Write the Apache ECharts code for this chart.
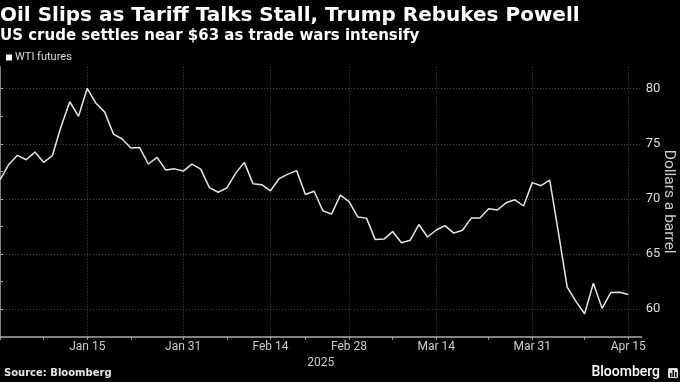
<!DOCTYPE html>
<html><head><meta charset="utf-8">
<script src="https://cdn.jsdelivr.net/npm/echarts@6/dist/echarts.min.js"></script>
<style>html,body{margin:0;padding:0;background:#000;}#c{width:680px;height:382px;}</style>
</head><body><div id="c"></div>
<script>
// Trading days (category positions) and WTI settles
const dates = ['Dec 31',
 'Jan 2','Jan 3','Jan 6','Jan 7','Jan 8','Jan 9','Jan 10','Jan 13','Jan 14','Jan 15','Jan 16','Jan 17',
 'Jan 21','Jan 22','Jan 23','Jan 24','Jan 27','Jan 28','Jan 29','Jan 30','Jan 31',
 'Feb 3','Feb 4','Feb 5','Feb 6','Feb 7','Feb 10','Feb 11','Feb 12','Feb 13','Feb 14',
 'Feb 18','Feb 19','Feb 20','Feb 21','Feb 24','Feb 25','Feb 26','Feb 27','Feb 28',
 'Mar 3','Mar 4','Mar 5','Mar 6','Mar 7','Mar 10','Mar 11','Mar 12','Mar 13','Mar 14',
 'Mar 17','Mar 18','Mar 19','Mar 20','Mar 21','Mar 24','Mar 25','Mar 26','Mar 27','Mar 28','Mar 31',
 'Apr 1','Apr 2','Apr 3','Apr 4','Apr 7','Apr 8','Apr 9','Apr 10','Apr 11','Apr 14','Apr 15'];
const wti = [71.72,
 73.13,73.96,73.56,74.25,73.32,73.92,76.57,78.82,77.50,80.04,78.68,77.88,
 75.89,75.44,74.62,74.66,73.17,73.77,72.62,72.73,72.53,
 73.16,72.70,71.03,70.61,71.00,72.32,73.32,71.37,71.29,70.74,
 71.85,72.25,72.57,70.40,70.70,68.93,68.62,70.35,69.76,
 68.37,68.26,66.31,66.36,67.04,66.03,66.25,67.68,66.55,67.18,
 67.58,66.90,67.16,68.26,68.28,69.11,69.00,69.65,69.92,69.36,71.48,
 71.20,71.71,66.95,61.99,60.70,59.58,62.35,60.07,61.50,61.53,61.33];
const labelDates = ['Jan 15','Jan 31','Feb 14','Feb 28','Mar 14','Mar 31','Apr 15'];
const minorTickDates = ['Dec 31','Jan 8','Jan 23','Feb 7','Feb 21','Mar 7','Mar 24','Apr 8'];
const yLabels = [60,65,70,75,80];
const yMinorTicks = [62.5,67.5,72.5,77.5];

const labelIdx = labelDates.map(d => dates.indexOf(d));
const tickIdx = minorTickDates.map(d => dates.indexOf(d)).concat(labelIdx).sort((a,b)=>a-b);
const yTicks = yLabels.concat(yMinorTicks).sort((a,b)=>a-b);

const chart = echarts.init(document.getElementById('c'), null, {renderer:'canvas'});
const xMax = 73.54, yMin = 57.5, yMax = 82;
chart.setOption({
  backgroundColor:'#000',
  animation:false,
  title:[
    {text:'Oil Slips as Tariff Talks Stall, Trump Rebukes Powell', left:0, top:6, padding:0,
     textStyle:{color:'#fff', fontSize:20, fontWeight:'bold', fontFamily:'DejaVu Sans'}},
    {text:'US crude settles near $63 as trade wars intensify', left:0, top:29, padding:0,
     textStyle:{color:'#fff', fontSize:15, fontWeight:'bold', fontFamily:'DejaVu Sans'}},
    {text:'Source: Bloomberg', left:4, top:368, padding:0,
     textStyle:{color:'#e6e6e6', fontSize:10, fontWeight:'bold', fontFamily:'DejaVu Sans'}}
  ],
  legend:{data:[{name:'WTI futures', icon:'rect'}], left:6, top:52, padding:0, itemWidth:6, itemHeight:6, itemGap:4,
    textStyle:{color:'#ddd', fontSize:11, fontFamily:'Roboto', padding:[0,0,0,-2]}},
  grid:{left:0, right:38.3, top:66.7, bottom:45.3, containLabel:false, outerBoundsMode:'none'},
  xAxis:[{
    type:'value', min:0, max:xMax,
    axisLine:{show:true, lineStyle:{color:'#aaa', width:1.5}},
    axisTick:{show:true, customValues:tickIdx, length:3, lineStyle:{color:'#aaa'}},
    axisLabel:{customValues:labelIdx, formatter:v => dates[Math.round(v)], color:'#ccc', fontSize:12, margin:4, fontFamily:'Roboto'},
    splitLine:{show:false},
    name:'2025', nameLocation:'middle', nameGap:20, nameMoveOverlap:false,
    nameTextStyle:{color:'#ccc', fontSize:12, fontFamily:'Roboto'}
  },{
    type:'value', min:0, max:xMax, position:'top',
    axisLine:{show:false}, axisTick:{show:false, customValues:labelIdx}, axisLabel:{show:false},
    splitLine:{show:true, lineStyle:{color:'#4a4a4a', type:[1,2], width:1}}
  }],
  yAxis:[{
    type:'value', position:'right', min:yMin, max:yMax,
    axisLine:{show:true, lineStyle:{color:'#aaa', width:1.5}},
    axisTick:{show:true, customValues:yTicks, length:3, lineStyle:{color:'#aaa'}},
    axisLabel:{customValues:yLabels, color:'#ddd', fontSize:13, margin:4, fontFamily:'Roboto'},
    splitLine:{show:false},
    name:'Dollars a barrel', nameLocation:'middle', nameRotate:-90, nameGap:19, nameMoveOverlap:false,
    nameTextStyle:{color:'#ccc', fontSize:15.5, fontFamily:'Roboto'}
  },{
    type:'value', position:'left', min:yMin, max:yMax,
    axisLine:{show:false}, axisTick:{show:false, customValues:yLabels}, axisLabel:{show:false},
    splitLine:{show:true, lineStyle:{color:'#4a4a4a', type:[1,2], width:1}}
  }],
  series:[{
    name:'WTI futures', type:'line', xAxisIndex:0, yAxisIndex:0, symbol:'none',
    itemStyle:{color:'#fff'},
    lineStyle:{color:'#e6e6e6', width:1.5},
    data: wti.map((v,i) => [i, v])
  }],
  graphic:[
    {type:'text', right:20, top:365, style:{text:'Bloomberg', fill:'#fff', font:'500 14px Roboto'}},
    {type:'group', right:2, top:368, children:[
      {type:'rect', shape:{x:0, y:0, width:10, height:10, r:1.5}, style:{fill:'#ddd'}},
      {type:'rect', shape:{x:2, y:5, width:1.5, height:4}, style:{fill:'#000'}},
      {type:'rect', shape:{x:4.5, y:2, width:1.5, height:7}, style:{fill:'#000'}},
      {type:'rect', shape:{x:7, y:4, width:1.5, height:5}, style:{fill:'#000'}}
    ]}
  ]
});
</script>
</body></html>
